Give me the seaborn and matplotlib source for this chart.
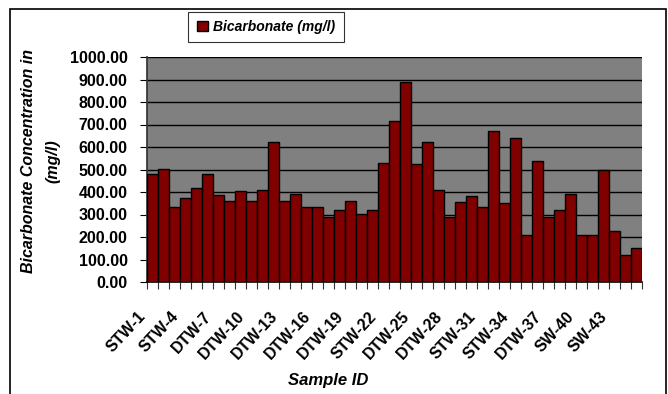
import matplotlib
matplotlib.use("Agg")
import matplotlib.pyplot as plt
from matplotlib.patches import Rectangle
import seaborn as sns
import pandas as pd
import numpy as np

sample_ids = [
    "STW-1", "STW-2", "STW-3", "STW-4", "STW-5", "STW-6",
    "DTW-7", "DTW-8", "DTW-9", "DTW-10", "DTW-11", "DTW-12",
    "DTW-13", "DTW-14", "DTW-15", "DTW-16", "DTW-17", "DTW-18",
    "DTW-19", "DTW-20", "DTW-21", "STW-22", "STW-23", "STW-24",
    "DTW-25", "DTW-26", "DTW-27", "DTW-28", "DTW-29", "DTW-30",
    "STW-31", "STW-32", "STW-33", "STW-34", "STW-35", "STW-36",
    "DTW-37", "DTW-38", "DTW-39", "SW-40", "SW-41", "SW-42",
    "SW-43", "SW-44", "SW-45",
]
bicarbonate = [
    478, 501, 332, 374, 417, 478, 386, 362, 404, 362, 411, 622,
    362, 392, 332, 332, 291, 319, 362, 303, 319, 531, 715, 890,
    525, 622, 411, 291, 356, 381, 332, 672, 350, 641, 211, 537,
    291, 319, 393, 211, 211, 496, 228, 119, 150,
]
y_ticks = [0, 100, 200, 300, 400, 500, 600, 700, 800, 900, 1000]
label_step = 3

df = pd.DataFrame({"Sample ID": sample_ids, "Bicarbonate (mg/l)": bicarbonate})

sns.set_theme(style="white")
plt.rcParams["font.family"] = ["Liberation Sans", "DejaVu Sans"]
plt.rcParams["text.color"] = "black"
plt.rcParams["xtick.color"] = "black"
plt.rcParams["ytick.color"] = "black"
plt.rcParams["axes.labelcolor"] = "black"

fig = plt.figure(figsize=(6.68, 3.94), dpi=100)
W, H = 668, 394
ax = fig.add_axes([147 / W, 1 - 282 / H, (642 - 147) / W, (282 - 57) / H])

sns.barplot(data=df, x="Sample ID", y="Bicarbonate (mg/l)", color="#800000",
            saturation=1, width=1.0, edgecolor="black", linewidth=1.0,
            ax=ax, label="Bicarbonate (mg/l)", zorder=3)

ax.set_facecolor("#808080")
ax.set_xlim(-0.5, len(sample_ids) - 0.5)
ax.set_ylim(0, 1000)
ax.set_yticks(y_ticks)
ax.set_yticklabels([f"{v:.2f}" for v in y_ticks], fontsize=11.5, fontweight="bold")
ax.yaxis.grid(True, color="black", linewidth=1.0, zorder=1)
ax.set_axisbelow(True)

# category ticks on bar boundaries, every third sample ID written diagonally
ax.set_xticks(np.arange(-0.5, len(sample_ids)))
ax.set_xticklabels([])
ax.tick_params(axis="x", which="major", length=5, width=0.8, color="#333333",
               direction="out", bottom=True)
for i in range(0, len(sample_ids), label_step):
    ax.annotate(sample_ids[i], xy=(i, 0), xycoords=("data", "axes fraction"),
                xytext=(-7, -23), textcoords="offset points",
                rotation=47, ha="right", va="center", rotation_mode="anchor",
                fontsize=11.5, fontweight="bold", annotation_clip=False)

ax.tick_params(axis="y", which="major", length=5, width=0.8, color="black",
               direction="out", left=True, pad=9)

for side in ["top", "right"]:
    ax.spines[side].set_visible(False)
ax.spines["left"].set_color("#333333")
ax.spines["bottom"].set_color("black")
ax.spines["bottom"].set_linewidth(1.2)

ax.set_xlabel("")
ax.set_ylabel("")
fig.text(328 / W, 1 - 380 / H, "Sample ID", ha="center", va="center",
         fontsize=12, fontweight="bold", fontstyle="italic")
fig.text(29 / W, 1 - 161 / H, "Bicarbonate Concentration in",
         rotation=90, ha="center", va="center", fontsize=11.5,
         fontweight="bold", fontstyle="italic")
fig.text(53 / W, 1 - 161 / H, "(mg/l)",
         rotation=90, ha="center", va="center", fontsize=11.5,
         fontweight="bold", fontstyle="italic")

leg = ax.legend(loc="center", bbox_to_anchor=(266 / W, 1 - 27 / H),
                bbox_transform=fig.transFigure, frameon=True, fancybox=False,
                prop={"weight": "bold", "style": "italic", "size": 10},
                handlelength=0.8, handleheight=0.8, handletextpad=0.4,
                borderpad=0.6, edgecolor="black")
leg.get_frame().set_linewidth(0.8)

fig.add_artist(Rectangle((10 / W, -0.05), (666 - 10) / W, 1.05 - 9 / H,
                         transform=fig.transFigure, fill=False,
                         edgecolor="black", linewidth=1.2))

fig.savefig("out.png", dpi=100, facecolor="white")
